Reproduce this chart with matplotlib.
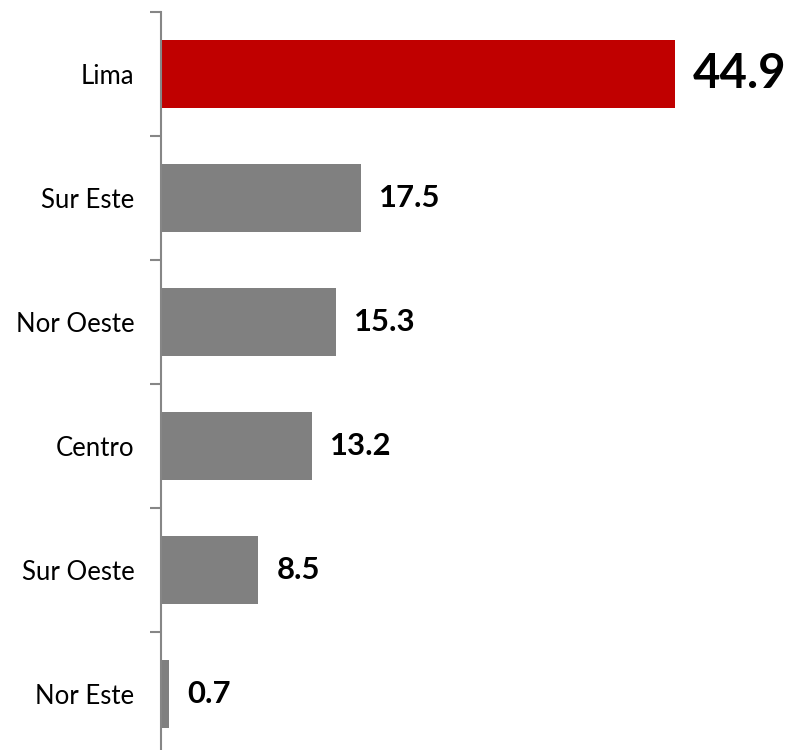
import matplotlib
matplotlib.use("Agg")
import matplotlib.pyplot as plt
from matplotlib.transforms import offset_copy

categories = ["Lima", "Sur Este", "Nor Oeste", "Centro", "Sur Oeste", "Nor Este"]
values = [44.9, 17.5, 15.3, 13.2, 8.5, 0.7]
colors = ["#C00000", "#808080", "#808080", "#808080", "#808080", "#808080"]

plt.rcParams['font.family'] = ['Lato', 'DejaVu Sans']

W, H = 787, 750
fig = plt.figure(figsize=(W/100, H/100), dpi=100)
left = 161 / W
right = 780 / W
top = 1 - 12 / H
bottom = -6 / H
ax = fig.add_axes([left, bottom, right - left, top - bottom])

n = len(categories)
ypos = list(range(n))
ax.barh(ypos, values, height=0.55, color=colors)
ax.set_ylim(n - 0.5, -0.5)
xmax = (780 - 161) / ((675 - 161) / 44.9)
ax.set_xlim(0, xmax)

for s in ["top", "right", "bottom"]:
    ax.spines[s].set_visible(False)
ax.spines["left"].set_color("#868686")
ax.spines["left"].set_linewidth(1.5)
ax.set_xticks([])

ax.set_yticks([i - 0.5 for i in range(n + 1)], minor=False)
ax.set_yticklabels([])
ax.tick_params(axis="y", which="major", length=8, width=1.5, color="#868686", direction="out")
ax.set_yticks(ypos, minor=True)
ax.set_yticklabels(categories, minor=True)
ax.tick_params(axis="y", which="minor", length=0, pad=19, labelsize=18.5)

for i, (v, c) in enumerate(zip(values, categories)):
    size = 34 if i == 0 else 22.3
    tr = offset_copy(ax.transData, fig=fig, x=18, y=0, units="dots")
    ax.text(v, i, f"{v:.1f}", transform=tr, ha="left", va="center",
            fontsize=size, fontweight="bold", color="black")

fig.savefig("out.png", dpi=100)
